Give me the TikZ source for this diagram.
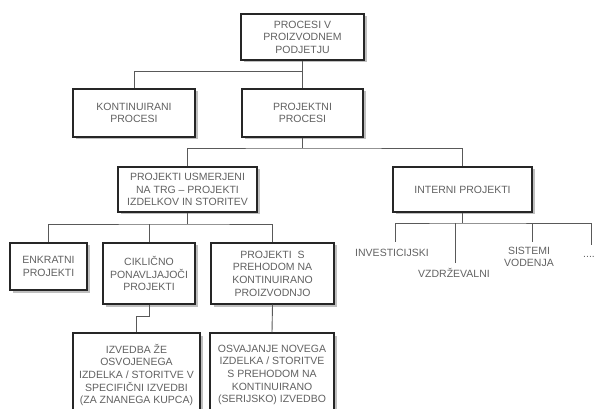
\documentclass[tikz,border=0pt]{standalone}
\usepackage{fontspec}
\setmainfont{Liberation Sans}
\usetikzlibrary{shadows}
\tikzset{
  box/.style={draw=black!85, line width=1.3pt, fill=white, inner sep=0pt, align=center,
    text=black!62, font=\fontsize{10.5}{12.6}\selectfont,
    drop shadow={shadow xshift=2.5pt, shadow yshift=-2.5pt, fill=black!25, opacity=1}},
  lbl/.style={inner sep=0pt, align=center, text=black!62, font=\fontsize{10.5}{12.6}\selectfont},
  conn/.style={draw=black!65, line width=0.9pt}
}
\begin{document}
\begin{tikzpicture}[x=1pt,y=-1pt]
\useasboundingbox (0,0) rectangle (595,409);
\clip (0,0) rectangle (595,409);
% boxes
\node[box, minimum width=123pt, minimum height=46pt] (top) at (302.5,37) {PROCESI V\\PROIZVODNEM\\PODJETJU};
\node[box, minimum width=122pt, minimum height=48pt] (kont) at (134,113) {KONTINUIRANI\\PROCESI};
\node[box, minimum width=121pt, minimum height=48pt] (proj) at (302.5,113) {PROJEKTNI\\PROCESI};
\node[box, minimum width=139pt, minimum height=45pt] (usmer) at (187.5,189.5) {PROJEKTI USMERJENI\\NA TRG -- PROJEKTI\\IZDELKOV IN STORITEV};
\node[box, minimum width=139pt, minimum height=45pt] (int) at (462.5,189.5) {INTERNI PROJEKTI};
\node[box, minimum width=77pt, minimum height=47pt] (enk) at (48.5,266.5) {ENKRATNI\\PROJEKTI};
\node[box, minimum width=92pt, minimum height=61pt] (cik) at (149,273.5) {CIKLIČNO\\PONAVLJAJOČI\\PROJEKTI};
\node[box, minimum width=123pt, minimum height=61pt] (preh) at (272.5,273.5) {PROJEKTI~~S\\PREHODOM NA\\KONTINUIRANO\\PROIZVODNJO};
\node[box, minimum width=127pt, minimum height=84pt] (izv) at (136.5,375) {IZVEDBA ŽE\\OSVOJENEGA\\IZDELKA / STORITVE V\\SPECIFIČNI IZVEDBI\\(ZA ZNANEGA KUPCA)};
\node[box, minimum width=124pt, minimum height=84pt] (osv) at (272,375) {OSVAJANJE NOVEGA\\IZDELKA / STORITVE\\S PREHODOM NA\\KONTINUIRANO\\(SERIJSKO) IZVEDBO};
% labels under interni
\node[lbl] (inv) at (392,253) {INVESTICIJSKI};
\node[lbl] (vzd) at (454,273) {VZDRŽEVALNI};
\node[lbl] (sis) at (529,257) {SISTEMI\\VODENJA};
\node[lbl] (dots) at (589,257) {....};
% junctions
\coordinate (j1) at (302.5,71);
\coordinate (j2) at (302.5,148);
\coordinate (j3) at (187.5,224);
\coordinate (j4) at (149,316);
\coordinate (j5) at (462.5,223);
\coordinate (c1) at (395,242);
\coordinate (c2) at (455,263);
\coordinate (c3) at (532,242);
\coordinate (c4) at (591,245);
% connectors
\draw[conn] (top.south) -- (proj.north);
\draw[conn] (j1) -| (kont.north);
\draw[conn] (proj.south) -- (j2);
\draw[conn] (usmer.north) |- (j2) -| (int.north);
\draw[conn] (usmer.south) -- (j3);
\draw[conn] (enk.north) |- (j3) -| (preh.north);
\draw[conn] (cik.north) -- (cik.north |- j3);
\draw[conn] (cik.south) -- (j4) -| (izv.north);
\draw[conn] (preh.south) -- (osv.north);
\draw[conn] (int.south) -- (j5);
\draw[conn] (c1) |- (j5) -| (c4);
\draw[conn] (c2) -- (c2 |- j5);
\draw[conn] (c3) -- (c3 |- j5);
\end{tikzpicture}
\end{document}
